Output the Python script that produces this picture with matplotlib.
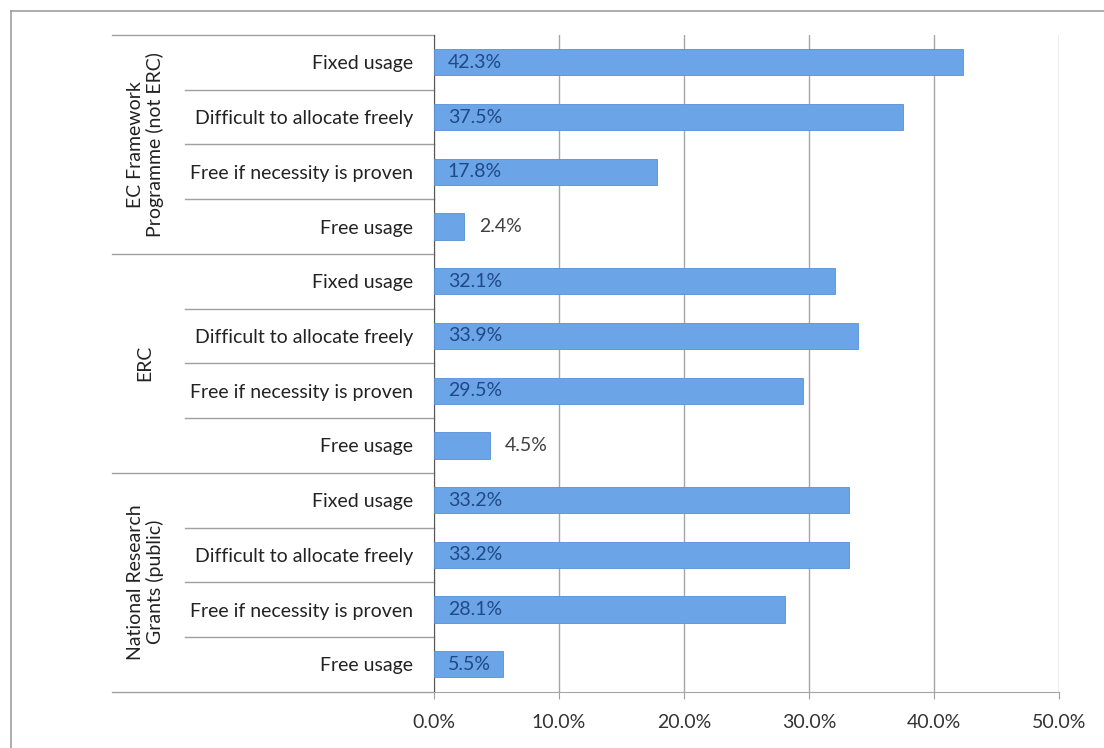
import numpy as np
import matplotlib.pyplot as plt
from matplotlib.lines import Line2D

# ───────────────────────────────────────────────────────
# data
groups = ["EC Framework\nProgramme (not ERC)", "ERC", "National Research\nGrants (public)"]
categories = ["Fixed usage", "Difficult to allocate freely",
              "Free if necessity is proven", "Free usage"]
values = [
    [42.3, 37.5, 17.8, 2.4],
    [32.1, 33.9, 29.5, 4.5],
    [33.2, 33.2, 28.1, 5.5],
]
xticks = [0, 10, 20, 30, 40, 50]

plt.rcParams['font.family'] = ['Lato', 'DejaVu Sans']
fs = 14

fig = plt.figure(figsize=(11.04, 7.48), dpi=100)
ax = fig.add_axes([434 / 1104, 1 - 691.7 / 748, 625 / 1104, (691.7 - 35) / 748])

labels = []
vals = []
for g in range(len(groups)):
    for c in range(len(categories)):
        labels.append(categories[c])
        vals.append(values[g][c])
y = np.arange(len(vals))

ax.barh(y, vals, height=0.48, color="#6ca4e8", edgecolor="#5a90d6", linewidth=0.6, zorder=3)

for yi, v in zip(y, vals):
    if v < 5:
        ax.text(v + 1.2, yi, f"{v:.1f}%", va="center", ha="left", fontsize=fs, color="#404040", zorder=4)
    else:
        ax.text(1.1, yi, f"{v:.1f}%", va="center", ha="left", fontsize=fs, color="#1f4a86", zorder=4)

ax.set_xlim(0, 50)
ax.set_ylim(len(vals) - 0.5, -0.5)
ax.set_xticks(xticks)
ax.set_xticklabels([f"{t:.1f}%" for t in xticks], fontsize=fs, color="#333333")
ax.set_yticks(y)
ax.set_yticklabels(labels, fontsize=fs, color="#222222")
ax.tick_params(axis="y", length=0, pad=15)
ax.tick_params(axis="x", length=5, color="#a0a0a0", pad=11)
ax.grid(axis="x", color="#a6a6a6", linewidth=1, zorder=0)
for s in ["top", "right"]:
    ax.spines[s].set_visible(False)
ax.spines["left"].set_color("#555555")
ax.spines["bottom"].set_color("#a6a6a6")

# group separators and group labels
trans = ax.get_yaxis_transform()
n = len(categories)
for k in range(len(vals) + 1):
    yb = k - 0.5
    x0 = -0.515 if k % n == 0 else -0.398
    ax.add_line(Line2D([x0, 0], [yb, yb], transform=trans, color="#a0a0a0",
                       linewidth=1, clip_on=False))
for g, name in enumerate(groups):
    ax.text(-0.462, g * n + (n - 1) / 2, name, transform=trans, rotation=90,
            ha="center", va="center", fontsize=fs, color="#222222", linespacing=1.15)

# outer frame
fig.add_artist(Line2D([11 / 1104, 11 / 1104], [0, 1 - 11 / 748], transform=fig.transFigure,
                      color="#a0a0a0", linewidth=1.2))
fig.add_artist(Line2D([11 / 1104, 1], [1 - 11 / 748, 1 - 11 / 748], transform=fig.transFigure,
                      color="#a0a0a0", linewidth=1.2))

fig.savefig("out.png", dpi=100)
